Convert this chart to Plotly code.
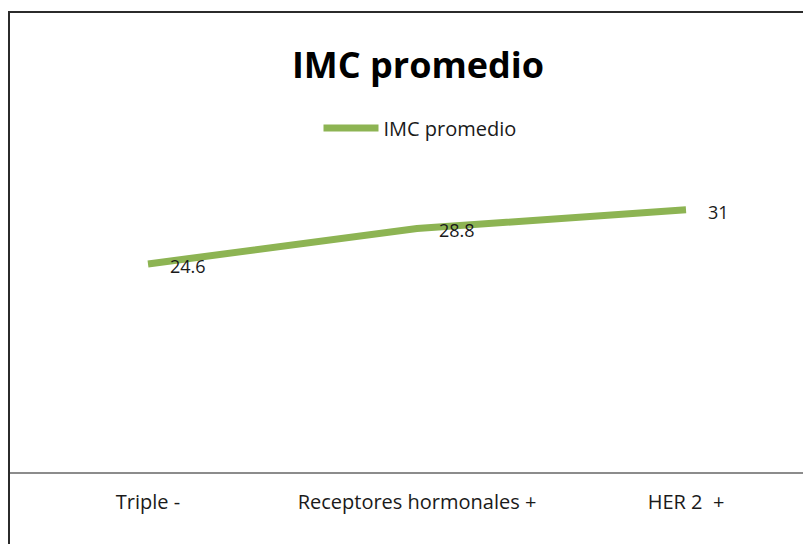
import plotly.graph_objects as go

# data
categories = ["Triple -", "Receptores hormonales +", "HER 2\u00a0 +"]
imc_values = [24.6, 28.8, 31]
value_labels = ["24.6", "28.8", "31"]
series_name = "IMC promedio"
chart_title = "IMC promedio"

# page body has an 8px margin, so work in shifted pixel coords
OFF = 8
W, H = 811 - OFF, 544 - OFF
ML, MR, MT, MB = 2, 0, 168, 72
plot_w = W - ML - MR
plot_h = H - MT - MB

def px_x(px):
    return (px - OFF - ML) / plot_w

def px_y(py):
    return (H - MB - (py - OFF)) / plot_h

green = "#8DB453"
font_name = "Open Sans"

fig = go.Figure()
fig.add_trace(go.Scatter(
    x=categories, y=imc_values, mode="lines", name=series_name,
    line=dict(color=green, width=7),
))

# data labels to the right of each point
for c, v, t in zip(categories, imc_values, value_labels):
    fig.add_annotation(x=c, y=v, text=t, showarrow=False,
                       xanchor="left", yanchor="middle", xshift=20, yshift=-2,
                       font=dict(family=font_name, size=18, color="#1a1a1a"))

# category spacing ~269px, first category at x=148
step = 269
first = 148 - OFF - ML
x0 = -first / step
fig.update_xaxes(
    range=[x0, x0 + plot_w / step],
    showgrid=False, zeroline=False,
    showline=True, linecolor="#8c8c8c", linewidth=2,
    ticks="", ticklabelstandoff=11,
    tickfont=dict(family=font_name, size=20, color="#1a1a1a"),
    fixedrange=True,
)
fig.update_yaxes(range=[0, 35], visible=False, showgrid=False, zeroline=False)

# chart border (left and top edges visible)
fig.add_shape(type="line", xref="paper", yref="paper",
              x0=px_x(9), x1=px_x(9), y0=px_y(12), y1=px_y(560),
              line=dict(color="#2b2b2b", width=2))
fig.add_shape(type="line", xref="paper", yref="paper",
              x0=px_x(8), x1=px_x(830), y0=px_y(12), y1=px_y(12),
              line=dict(color="#2b2b2b", width=2))

fig.update_layout(
    width=W, height=H,
    margin=dict(l=ML, r=MR, t=MT, b=MB),
    paper_bgcolor="white", plot_bgcolor="white",
    title=dict(text="<b>" + chart_title + "</b>", x=px_x(418), xanchor="center",
               xref="paper", y=1 - (65 - OFF) / H, yanchor="middle",
               font=dict(family=font_name, size=36, color="#000")),
    showlegend=True,
    legend=dict(orientation="h", x=px_x(420), xanchor="center",
                y=px_y(128), yanchor="middle",
                font=dict(family=font_name, size=20, color="#1a1a1a"),
                bgcolor="rgba(0,0,0,0)", itemwidth=55),
)

fig.write_html("out.html")
